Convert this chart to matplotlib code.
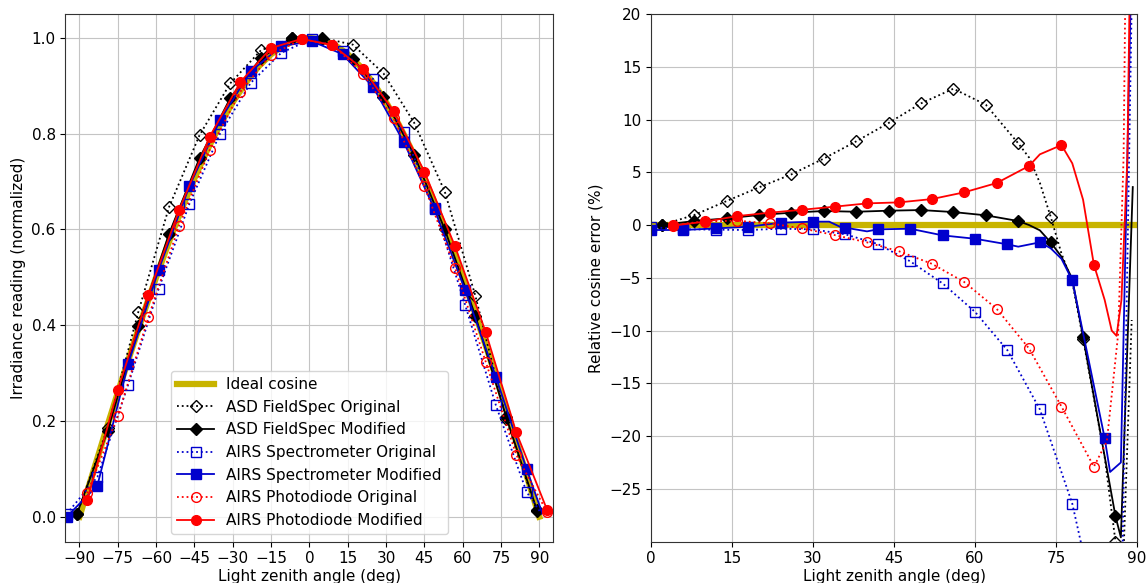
import matplotlib
matplotlib.use('Agg')
import matplotlib.pyplot as plt
import numpy as np

# ---- left panel: normalized irradiance vs angle ----
ideal_deg = [-90, -85, -80, -75, -70, -65, -60, -55, -50, -45, -40, -35, -30, -25, -20, -15, -10, -5, 0,
             5, 10, 15, 20, 25, 30, 35, 40, 45, 50, 55, 60, 65, 70, 75, 80, 85, 90]
ideal_val = [0.0, 0.087, 0.174, 0.259, 0.342, 0.423, 0.5, 0.574, 0.643, 0.707, 0.766, 0.819, 0.866, 0.906, 0.94, 0.966, 0.985, 0.996, 1.0,
             0.996, 0.985, 0.966, 0.94, 0.906, 0.866, 0.819, 0.766, 0.707, 0.643, 0.574, 0.5, 0.423, 0.342, 0.259, 0.174, 0.087, 0.0]

asd_deg = [-91, -79, -67, -55, -43, -31, -19, -7, 5, 17, 29, 41, 53, 65, 77, 89]
asd_orig = [0.005, 0.185, 0.427, 0.646, 0.797, 0.905, 0.974, 0.999, 1.0, 0.986, 0.926, 0.823, 0.679, 0.461, 0.205, 0.012]
asd_mod = [0.006, 0.179, 0.398, 0.59, 0.749, 0.874, 0.958, 0.999, 0.997, 0.957, 0.877, 0.756, 0.60, 0.419, 0.209, 0.015]

spec_deg = [-95, -83, -71, -59, -47, -35, -23, -11, 1, 13, 25, 37, 49, 61, 73, 85, 91]
spec_orig = [0.006, 0.083, 0.275, 0.476, 0.653, 0.80, 0.906, 0.969, 0.998, 0.973, 0.914, 0.803, 0.645, 0.442, 0.233, 0.052, 0.005]
spec_mod = [0.0, 0.065, 0.318, 0.516, 0.69, 0.828, 0.93, 0.983, 0.993, 0.966, 0.897, 0.782, 0.642, 0.473, 0.292, 0.10, 0.01]

photo_deg = [-87, -75, -63, -51, -39, -27, -15, -3, 9, 21, 33, 45, 57, 69, 81, 93]
photo_orig = [0.049, 0.21, 0.417, 0.608, 0.766, 0.888, 0.965, 0.997, 0.986, 0.925, 0.832, 0.69, 0.52, 0.324, 0.129, 0.01]
photo_mod = [0.034, 0.265, 0.464, 0.641, 0.794, 0.908, 0.979, 0.998, 0.985, 0.935, 0.847, 0.721, 0.565, 0.386, 0.176, 0.015]

# ---- right panel: relative cosine error (%) ----
ideal_err_deg = [0, 90]
ideal_err = [0, 0]

asd_orig_deg = [2, 8, 14, 20, 26, 32, 38, 44, 50, 56, 62, 68, 70, 72, 74, 76, 78, 80, 84, 86, 87.5, 89]
asd_orig_err = [0.0, 0.95, 2.27, 3.57, 4.8, 6.3, 7.93, 9.67, 11.53, 12.92, 11.4, 7.74, 6.4, 4.0, 0.79, -2.7, -5.4, -10.8, -22.0, -30.0, -31.0, -9.0]
asd_mod_deg = [2, 8, 14, 20, 26, 32, 38, 44, 50, 56, 62, 68, 70, 72, 74, 76, 78, 80, 86, 87, 89.2]
asd_mod_err = [0.0, 0.38, 0.63, 0.95, 1.17, 1.33, 1.26, 1.36, 1.42, 1.23, 0.92, 0.38, 0.0, -0.5, -1.64, -3.0, -5.1, -10.6, -27.6, -29.6, 3.6]

spec_orig_deg = [0, 6, 12, 18, 24, 30, 36, 42, 48, 54, 60, 66, 72, 78, 80, 87.3, 89]
spec_orig_err = [-0.2, -0.4, -0.44, -0.47, -0.35, -0.41, -0.88, -1.8, -3.44, -5.53, -8.23, -11.87, -17.47, -26.4, -31.0, -31.0, 21.0]
spec_mod_deg = [0, 6, 12, 18, 24, 30, 33, 35, 36, 40, 42, 48, 54, 60, 66, 68, 72, 74, 76, 78, 84, 85, 87, 88.8]
spec_mod_err = [-0.47, -0.47, -0.32, -0.16, 0.22, 0.32, 0.32, -0.16, -0.25, -0.6, -0.41, -0.35, -0.98, -1.3, -1.83, -2.05, -1.64, -2.2, -3.2, -5.24, -20.2, -23.4, -22.5, 21.0]

photo_orig_deg = [4, 10, 16, 22, 28, 34, 40, 46, 52, 58, 64, 70, 76, 82, 84.4, 86.5, 87.5, 87.8]
photo_orig_err = [0.0, 0.35, 0.41, 0.16, -0.32, -0.95, -1.64, -2.5, -3.67, -5.4, -7.94, -11.7, -17.2, -22.9, -20.5, -10.3, 6.5, 21.0]
photo_mod_deg = [4, 10, 16, 22, 28, 34, 40, 46, 52, 58, 64, 70, 72, 76, 78, 80, 82, 84, 85.3, 86.2, 87.1, 88.2, 88.6]
photo_mod_err = [-0.06, 0.32, 0.85, 1.17, 1.45, 1.74, 2.05, 2.15, 2.46, 3.1, 3.98, 5.6, 6.7, 7.58, 5.85, 2.4, -3.75, -7.1, -10.0, -10.5, -7.1, 6.2, 21.0]

# marker positions on the right panel (every 6 deg)
asd_marks = np.arange(2, 87, 6)
spec_marks = np.arange(0, 85, 6)
photo_marks = np.arange(4, 89, 6)

olive = '#c8b400'
blue = '#0000cd'
red = '#ff0000'
fs = 11

plt.rcParams['font.size'] = fs
plt.rcParams['grid.color'] = '#c4c4c4'
plt.rcParams['axes.edgecolor'] = '#333333'
fig = plt.figure(figsize=(11.48, 5.83), dpi=100)
ax1 = fig.add_axes([0.057, 0.071, 0.425, 0.905])
ax2 = fig.add_axes([0.567, 0.071, 0.4235, 0.905])


def marks(deg, wanted):
    return [i for i, d in enumerate(deg) if np.isclose(wanted, d).any()]


# left
ax1.plot(ideal_deg, ideal_val, color=olive, lw=4.5, label='Ideal cosine')
ax1.plot(asd_deg, asd_orig, 'k:', marker='D', mfc='none', ms=6.5, lw=1.3, label='ASD FieldSpec Original')
ax1.plot(asd_deg, asd_mod, 'k-', marker='D', ms=6.5, lw=1.3, label='ASD FieldSpec Modified')
ax1.plot(spec_deg, spec_orig, ':', color=blue, marker='s', mfc='none', ms=7, lw=1.3,
         markevery=list(range(16)), label='AIRS Spectrometer Original')
ax1.plot(spec_deg, spec_mod, '-', color=blue, marker='s', ms=7, lw=1.3,
         markevery=list(range(16)), label='AIRS Spectrometer Modified')
ax1.plot(photo_deg, photo_orig, ':', color=red, marker='o', mfc='none', ms=7, lw=1.3, label='AIRS Photodiode Original')
ax1.plot(photo_deg, photo_mod, '-', color=red, marker='o', ms=7, lw=1.3, label='AIRS Photodiode Modified')
ax1.set_xlim(-95.5, 95.5)
ax1.set_ylim(-0.052, 1.05)
ax1.set_xticks(np.arange(-90, 91, 15))
ax1.set_yticks(np.arange(0, 1.01, 0.2))
ax1.grid(True)
ax1.set_xlabel('Light zenith angle (deg)', labelpad=2)
ax1.set_ylabel('Irradiance reading (normalized)')
ax1.legend(loc='lower center', fontsize=fs, handlelength=2.4)

# right
ax2.plot(ideal_err_deg, ideal_err, color=olive, lw=4.5)
ax2.plot(asd_orig_deg, asd_orig_err, 'k:', marker='D', mfc='none', ms=6.5, lw=1.3,
         markevery=marks(asd_orig_deg, asd_marks))
ax2.plot(asd_mod_deg, asd_mod_err, 'k-', marker='D', ms=6.5, lw=1.3,
         markevery=marks(asd_mod_deg, asd_marks))
ax2.plot(spec_orig_deg, spec_orig_err, ':', color=blue, marker='s', mfc='none', ms=7, lw=1.3,
         markevery=marks(spec_orig_deg, spec_marks))
ax2.plot(spec_mod_deg, spec_mod_err, '-', color=blue, marker='s', ms=7, lw=1.3,
         markevery=marks(spec_mod_deg, spec_marks))
ax2.plot(photo_orig_deg, photo_orig_err, ':', color=red, marker='o', mfc='none', ms=7, lw=1.3,
         markevery=marks(photo_orig_deg, photo_marks))
ax2.plot(photo_mod_deg, photo_mod_err, '-', color=red, marker='o', ms=7, lw=1.3,
         markevery=marks(photo_mod_deg, photo_marks))
ax2.set_xlim(0, 90)
ax2.set_ylim(-30, 20)
ax2.set_xticks(np.arange(0, 91, 15))
ax2.set_yticks(np.arange(-25, 21, 5))
ax2.grid(True)
ax2.set_xlabel('Light zenith angle (deg)', labelpad=2)
ax2.set_ylabel('Relative cosine error (%)')

plt.savefig('out.png', dpi=100)
plt.close()
